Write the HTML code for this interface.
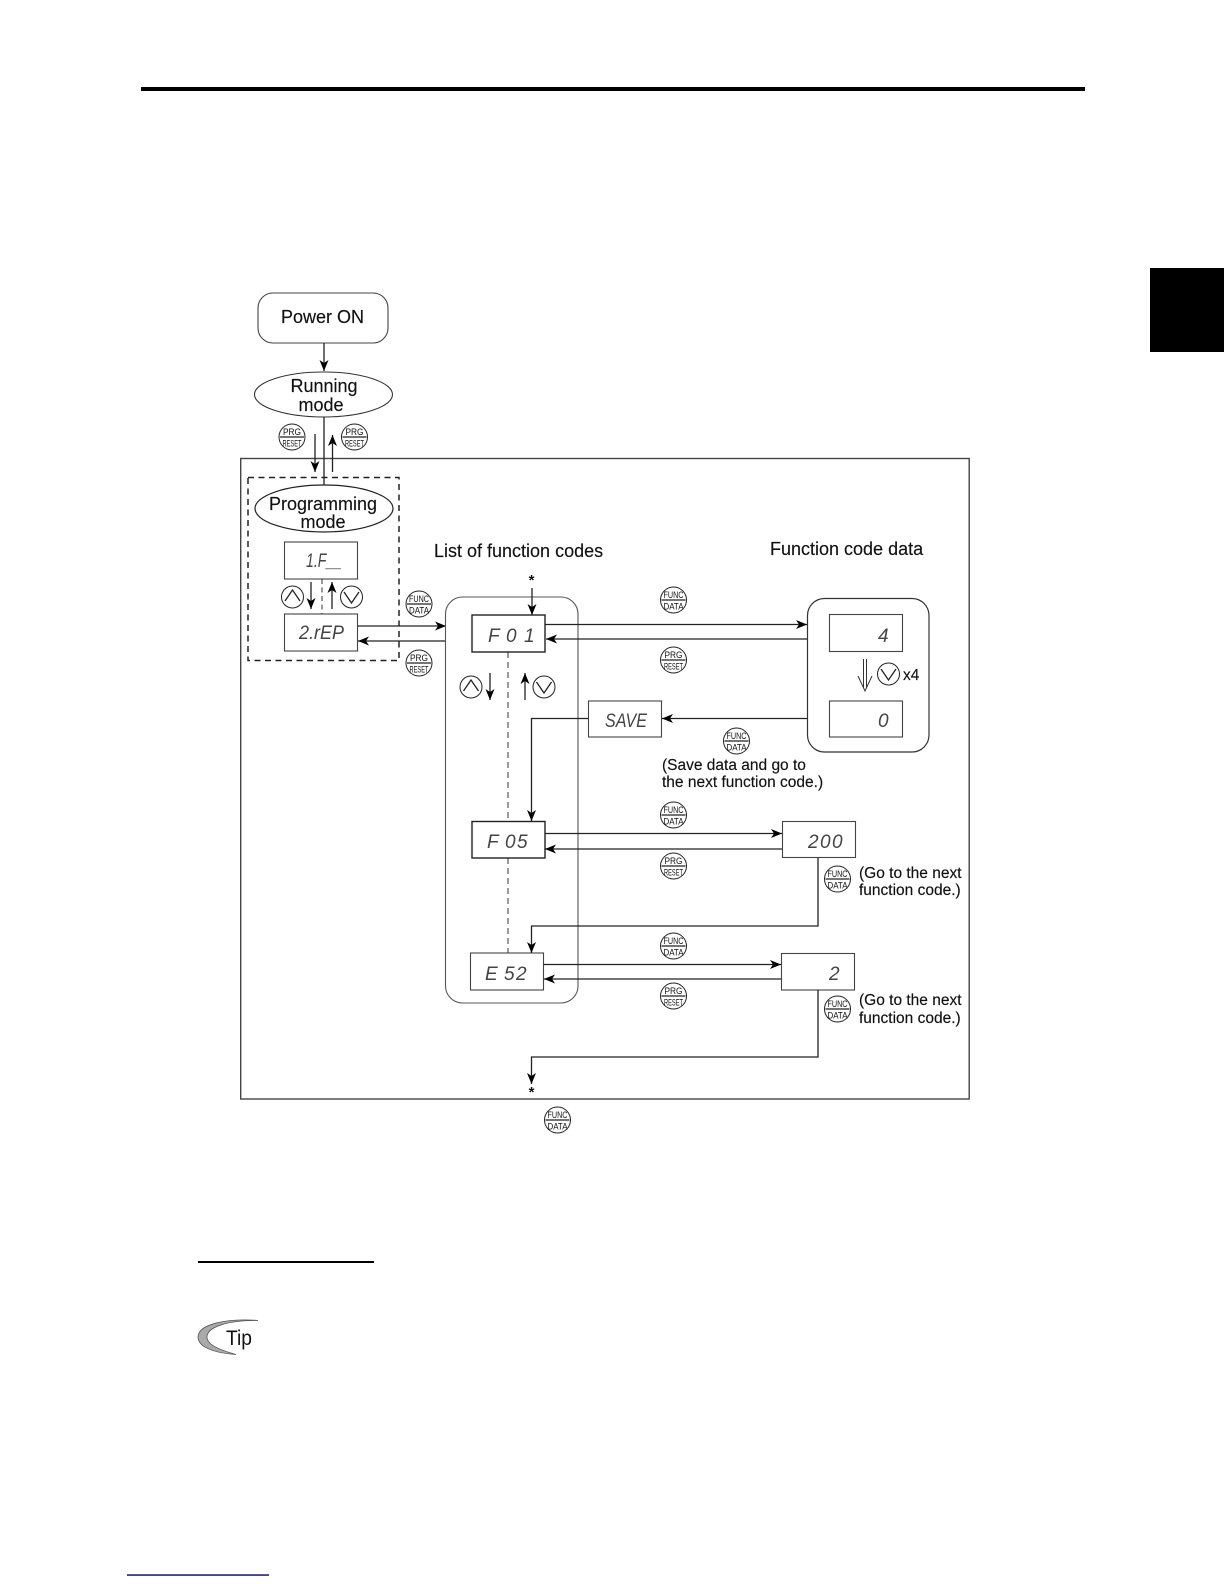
<!DOCTYPE html>
<html><head><meta charset="utf-8"><style>
html,body{margin:0;padding:0;background:#fff}
svg{display:block}
text{font-family:"Liberation Sans",sans-serif;fill:#111}
.t{font-size:18px;stroke:#111;stroke-width:.15}
.s{font-size:15.5px;stroke:#111;stroke-width:.15}
.d{font-size:19px;font-style:italic;fill:#444}
.b{font-size:9.5px;fill:#111}
.l{fill:none;stroke:#222;stroke-width:1.3}
.box{fill:#fff;stroke:#222;stroke-width:1.4}
.g{fill:#fff;stroke:#444;stroke-width:1.1}
.c{fill:#fff;stroke:#222;stroke-width:1}
</style></head><body>
<svg width="1224" height="1584" viewBox="0 0 1224 1584" xmlns="http://www.w3.org/2000/svg">
<defs>
<marker id="a" markerUnits="userSpaceOnUse" markerWidth="13" markerHeight="10" refX="11" refY="5" orient="auto"><path d="M0 .5 L11 5 L0 9.500 L3 5Z" fill="#000"/></marker>
</defs>
<rect x="141" y="87" width="944" height="4" fill="#000"/>
<rect x="1150" y="268" width="74" height="84" fill="#000"/>
<rect x="198" y="1261" width="176" height="2" fill="#000"/>
<rect x="127" y="1574.3" width="142" height="1.5" fill="#14147a"/>

<rect x="240.700" y="458.500" width="728.500" height="640.500" fill="none" stroke="#444" stroke-width="1.4"/>
<rect x="248" y="477.500" width="151" height="183" fill="none" stroke="#222" stroke-width="1.5" stroke-dasharray="6 4.500"/>

<rect x="258" y="293" width="130" height="50" rx="15" fill="#fff" stroke="#444" stroke-width="1.1"/>
<text class="t" x="281" y="323">Power ON</text>
<path class="l" d="M324 343V371" marker-end="url(#a)"/>
<ellipse cx="323.500" cy="394.500" rx="69" ry="22.500" fill="#fff" stroke="#333" stroke-width="1.1"/>
<text class="t" x="324" y="392" text-anchor="middle">Running</text>
<text class="t" x="321" y="411" text-anchor="middle">mode</text>
<path class="l" d="M324 417V485"/>
<path d="M315 434V472" class="l" stroke-width="1" marker-end="url(#a)"/>
<path d="M332.500 472V435" class="l" stroke-width="1" marker-end="url(#a)"/>

<ellipse cx="324" cy="508.500" rx="69" ry="23.500" fill="#fff" stroke="#222" stroke-width="1.2"/>
<text class="t" x="323" y="510" text-anchor="middle">Programming</text>
<text class="t" x="323" y="528" text-anchor="middle">mode</text>

<rect class="g" x="284.500" y="542" width="73" height="37"/>
<text class="d" x="306" y="567" textLength="36" lengthAdjust="spacingAndGlyphs">1.F__</text>
<rect class="g" x="284.500" y="614" width="73" height="37"/>
<text class="d" x="299" y="639" textLength="45" lengthAdjust="spacingAndGlyphs">2.rEP</text>
<path d="M322 579V614" fill="none" stroke="#333" stroke-dasharray="5 3.500"/>
<path class="l" d="M311 582V609" marker-end="url(#a)"/>
<path class="l" d="M332 609V582" marker-end="url(#a)"/>
<circle class="c" cx="292.500" cy="597" r="11"/><path class="l" stroke-width="1" d="M285 601L292.500 590L300 601"/>
<circle class="c" cx="351.500" cy="597" r="11"/><path class="l" stroke-width="1" d="M344 592L351.500 603L359 592"/>
<path class="l" d="M357.500 626H446" marker-end="url(#a)"/>
<path class="l" d="M446 641H358" marker-end="url(#a)"/>

<rect x="445.500" y="597" width="132.500" height="406" rx="17" fill="none" stroke="#555" stroke-width="1.1"/>
<text class="t" x="434" y="557">List of function codes</text>
<text class="t" x="770" y="555">Function code data</text>
<text x="531.500" y="585" text-anchor="middle" style="font-size:15px;font-weight:bold">*</text>
<path class="l" stroke-width="1" d="M532 588V615" marker-end="url(#a)"/>

<path d="M508 652V821M508 858V953" fill="none" stroke="#333" stroke-dasharray="6 4"/>
<rect class="box" x="472" y="615" width="73" height="37"/>
<text class="d" x="488 497 506 524" y="642">F 01</text>
<rect class="box" x="472" y="821.500" width="73" height="36.500"/>
<text class="d" x="487 496 505 517" y="848">F 05</text>
<rect class="g" x="470.500" y="953" width="73" height="37"/>
<text class="d" x="485 495 504 516" y="980">E 52</text>

<circle class="c" cx="471" cy="687" r="11"/><path class="l" stroke-width="1" d="M463.500 691L471 680L478.500 691"/>
<circle class="c" cx="544" cy="687" r="11"/><path class="l" stroke-width="1" d="M536.500 682L544 693L551.500 682"/>
<path class="l" d="M490 673V700" marker-end="url(#a)"/>
<path class="l" stroke-width="1" d="M525 700V673" marker-end="url(#a)"/>

<path class="l" stroke-width="1" d="M545 624.500H807" marker-end="url(#a)"/>
<path class="l" d="M807 639H546" marker-end="url(#a)"/>
<rect x="807.500" y="598.500" width="121.500" height="153.500" rx="17" fill="#fff" stroke="#333" stroke-width="1.2"/>
<rect class="g" x="829.500" y="614.500" width="73" height="37"/>
<text class="d" x="878" y="642">4</text>
<rect class="g" x="829.500" y="701" width="73" height="36"/>
<text class="d" x="878" y="727">0</text>
<path d="M863.500 659V688M866.500 659V688M858 676L865 691L872 676" fill="none" stroke="#333" stroke-width="1"/>
<circle class="c" cx="888.500" cy="674" r="11"/><path class="l" stroke-width="1" d="M881 669L888.500 680L896 669"/>
<text class="s" x="903" y="680">x4</text>

<path class="l" d="M807 718.500H662" marker-end="url(#a)"/>
<rect class="g" x="588.500" y="701" width="73" height="36"/>
<text class="d" x="605" y="727" textLength="42" lengthAdjust="spacingAndGlyphs">SAVE</text>
<path class="l" d="M588.500 718.500H531.500V821" marker-end="url(#a)"/>
<text class="s" x="662" y="770">(Save data and go to</text>
<text class="s" x="662" y="787">the next function code.)</text>

<path class="l" d="M545 833.500H782" marker-end="url(#a)"/>
<path class="l" d="M782 849H545" marker-end="url(#a)"/>
<rect class="g" x="782.500" y="821.500" width="73" height="36"/>
<text class="d" x="808 820 832" y="848">200</text>
<path class="l" d="M818 858V926H531.500V953" marker-end="url(#a)"/>
<text class="s" x="859" y="878">(Go to the next</text>
<text class="s" x="859" y="895">function code.)</text>

<path class="l" stroke-width="1" d="M543.500 964.500H781" marker-end="url(#a)"/>
<path class="l" d="M781.500 979H544" marker-end="url(#a)"/>
<rect class="g" x="781.500" y="953.500" width="73" height="36.500"/>
<text class="d" x="829" y="980">2</text>
<path class="l" d="M818 990V1057H531.500V1084" marker-end="url(#a)"/>
<text x="531.500" y="1097" text-anchor="middle" style="font-size:15px;font-weight:bold">*</text>
<text class="s" x="859" y="1005">(Go to the next</text>
<text class="s" x="859" y="1023">function code.)</text>

<g transform="translate(292,437)"><circle class="c" r="13"/><path class="l" d="M-12 0H12"/><text class="b" x="0" y="-2" text-anchor="middle" textLength="18" lengthAdjust="spacingAndGlyphs">PRG</text><text class="b" x="0" y="9.500" text-anchor="middle" textLength="19" lengthAdjust="spacingAndGlyphs">RESET</text></g>
<g transform="translate(354.500,437)"><circle class="c" r="13"/><path class="l" d="M-12 0H12"/><text class="b" x="0" y="-2" text-anchor="middle" textLength="18" lengthAdjust="spacingAndGlyphs">PRG</text><text class="b" x="0" y="9.500" text-anchor="middle" textLength="19" lengthAdjust="spacingAndGlyphs">RESET</text></g>
<g transform="translate(419,604)"><circle class="c" r="13"/><path class="l" d="M-12 0H12"/><text class="b" x="0" y="-2" text-anchor="middle" textLength="20" lengthAdjust="spacingAndGlyphs">FUNC</text><text class="b" x="0" y="9.500" text-anchor="middle" textLength="20" lengthAdjust="spacingAndGlyphs">DATA</text></g>
<g transform="translate(419,663)"><circle class="c" r="13"/><path class="l" d="M-12 0H12"/><text class="b" x="0" y="-2" text-anchor="middle" textLength="18" lengthAdjust="spacingAndGlyphs">PRG</text><text class="b" x="0" y="9.500" text-anchor="middle" textLength="19" lengthAdjust="spacingAndGlyphs">RESET</text></g>
<g transform="translate(673.500,600)"><circle class="c" r="13"/><path class="l" d="M-12 0H12"/><text class="b" x="0" y="-2" text-anchor="middle" textLength="20" lengthAdjust="spacingAndGlyphs">FUNC</text><text class="b" x="0" y="9.500" text-anchor="middle" textLength="20" lengthAdjust="spacingAndGlyphs">DATA</text></g>
<g transform="translate(673.500,660)"><circle class="c" r="13"/><path class="l" d="M-12 0H12"/><text class="b" x="0" y="-2" text-anchor="middle" textLength="18" lengthAdjust="spacingAndGlyphs">PRG</text><text class="b" x="0" y="9.500" text-anchor="middle" textLength="19" lengthAdjust="spacingAndGlyphs">RESET</text></g>
<g transform="translate(736.500,741)"><circle class="c" r="13"/><path class="l" d="M-12 0H12"/><text class="b" x="0" y="-2" text-anchor="middle" textLength="20" lengthAdjust="spacingAndGlyphs">FUNC</text><text class="b" x="0" y="9.500" text-anchor="middle" textLength="20" lengthAdjust="spacingAndGlyphs">DATA</text></g>
<g transform="translate(673.500,815)"><circle class="c" r="13"/><path class="l" d="M-12 0H12"/><text class="b" x="0" y="-2" text-anchor="middle" textLength="20" lengthAdjust="spacingAndGlyphs">FUNC</text><text class="b" x="0" y="9.500" text-anchor="middle" textLength="20" lengthAdjust="spacingAndGlyphs">DATA</text></g>
<g transform="translate(673.500,866)"><circle class="c" r="13"/><path class="l" d="M-12 0H12"/><text class="b" x="0" y="-2" text-anchor="middle" textLength="18" lengthAdjust="spacingAndGlyphs">PRG</text><text class="b" x="0" y="9.500" text-anchor="middle" textLength="19" lengthAdjust="spacingAndGlyphs">RESET</text></g>
<g transform="translate(673.500,946)"><circle class="c" r="13"/><path class="l" d="M-12 0H12"/><text class="b" x="0" y="-2" text-anchor="middle" textLength="20" lengthAdjust="spacingAndGlyphs">FUNC</text><text class="b" x="0" y="9.500" text-anchor="middle" textLength="20" lengthAdjust="spacingAndGlyphs">DATA</text></g>
<g transform="translate(673.500,996)"><circle class="c" r="13"/><path class="l" d="M-12 0H12"/><text class="b" x="0" y="-2" text-anchor="middle" textLength="18" lengthAdjust="spacingAndGlyphs">PRG</text><text class="b" x="0" y="9.500" text-anchor="middle" textLength="19" lengthAdjust="spacingAndGlyphs">RESET</text></g>
<g transform="translate(837.500,879)"><circle class="c" r="13"/><path class="l" d="M-12 0H12"/><text class="b" x="0" y="-2" text-anchor="middle" textLength="20" lengthAdjust="spacingAndGlyphs">FUNC</text><text class="b" x="0" y="9.500" text-anchor="middle" textLength="20" lengthAdjust="spacingAndGlyphs">DATA</text></g>
<g transform="translate(837.500,1009)"><circle class="c" r="13"/><path class="l" d="M-12 0H12"/><text class="b" x="0" y="-2" text-anchor="middle" textLength="20" lengthAdjust="spacingAndGlyphs">FUNC</text><text class="b" x="0" y="9.500" text-anchor="middle" textLength="20" lengthAdjust="spacingAndGlyphs">DATA</text></g>
<g transform="translate(557.500,1120)"><circle class="c" r="13"/><path class="l" d="M-12 0H12"/><text class="b" x="0" y="-2" text-anchor="middle" textLength="20" lengthAdjust="spacingAndGlyphs">FUNC</text><text class="b" x="0" y="9.500" text-anchor="middle" textLength="20" lengthAdjust="spacingAndGlyphs">DATA</text></g>

<path d="M258 1320.500C228 1318 198 1324 198 1337C198 1347 214 1353 236 1354.500C220 1350 207 1345 207 1337C207 1327 228 1320 258 1320.500Z" fill="#aaa" stroke="#555" stroke-width="0.8"/>
<text x="226" y="1345" style="font-size:21px" textLength="26" lengthAdjust="spacingAndGlyphs">Tip</text>
</svg>
</body></html>
